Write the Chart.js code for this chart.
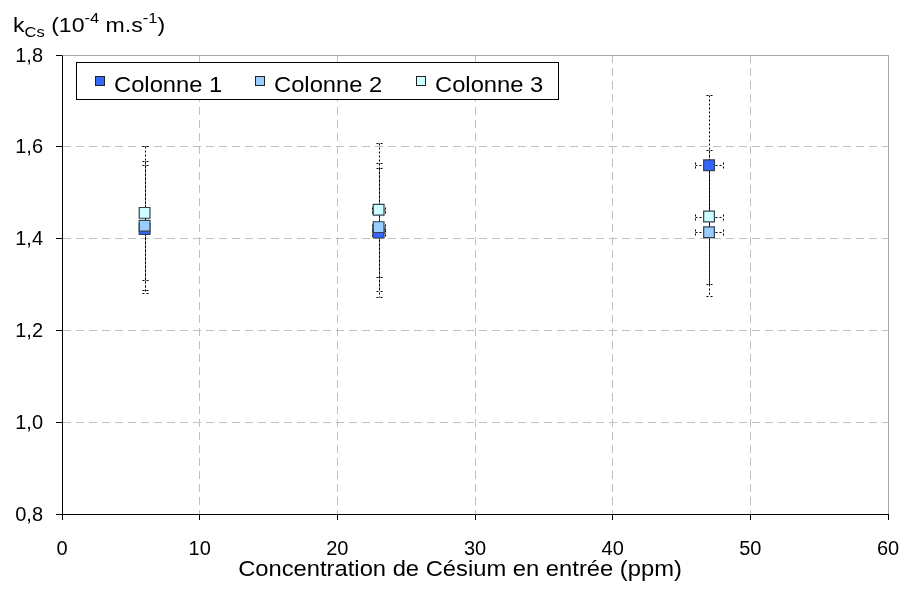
<!DOCTYPE html>
<html lang="fr">
<head>
<meta charset="UTF-8">
<title>kCs</title>
<style>
  html, body { margin: 0; padding: 0; background: #fff; }
  #wrap { width: 904px; height: 594px; position: relative; }
</style>
</head>
<body>
<div id="wrap"><canvas id="chart" width="904" height="594"></canvas></div>
<script src="https://cdn.jsdelivr.net/npm/chart.js"></script>
<script>
// data
const concentrations = [6, 23, 47];
const colonne1 = [1.421, 1.413, 1.560];
const colonne2 = [1.428, 1.425, 1.414];
const colonne3 = [1.456, 1.463, 1.448];
const errY1 = [0.14, 0.14, 0.153];
const errY2 = [0.14, 0.14, 0.14];
const errY3 = [0.146, 0.146, 0.146];
const errX = [0, 0.45, 1.0];
const seriesNames = ['Colonne 1', 'Colonne 2', 'Colonne 3'];
const seriesColors = ['#3366FF', '#99CCFF', '#CCFFFF'];
const xTicks = [0, 10, 20, 30, 40, 50, 60];
const yTicks = [0.8, 1.0, 1.2, 1.4, 1.6, 1.8];

const FONT = 'Arial, "Liberation Sans", sans-serif';

const toPoints = (ys, errs) => concentrations.map((x, i) => ({ x: x, y: ys[i], ey: errs[i], ex: errX[i] }));

const makeSet = (i, ys, errs, order) => ({
  label: seriesNames[i],
  data: toPoints(ys, errs),
  pointStyle: 'rect',
  pointRadius: 7.6,
  pointHoverRadius: 7.6,
  backgroundColor: seriesColors[i],
  borderColor: '#34434f',
  borderWidth: 1.2,
  showLine: false,
  order: order
});

// text is a bit wider than plain Arial in the original
const wideText = (ctx, text, x, y, sx) => {
  ctx.save();
  ctx.translate(x, y);
  ctx.scale(sx, 1);
  ctx.fillText(text, 0, 0);
  ctx.restore();
  return ctx.measureText(text).width * sx;
};

// dotted error bars, drawn under the markers
const errorBars = {
  id: 'errorBars',
  beforeDatasetsDraw(chart) {
    const ctx = chart.ctx;
    const xs = chart.scales.x, ys = chart.scales.y;
    const area = chart.chartArea;
    ctx.save();
    // solid grey frame on top and right of the plot area
    ctx.strokeStyle = '#a8a8a8';
    ctx.lineWidth = 1;
    ctx.beginPath();
    ctx.moveTo(Math.round(area.left) + 0.5, Math.round(area.top) + 0.5);
    ctx.lineTo(Math.round(area.right) + 0.5, Math.round(area.top) + 0.5);
    ctx.lineTo(Math.round(area.right) + 0.5, Math.round(area.bottom));
    ctx.stroke();

    ctx.strokeStyle = '#000';
    ctx.setLineDash([2, 2]);
    chart.data.datasets.forEach(ds => {
      ds.data.forEach(p => {
        const px = Math.round(xs.getPixelForValue(p.x)) + 0.5;
        const py = Math.round(ys.getPixelForValue(p.y)) + 0.5;
        const top = Math.round(ys.getPixelForValue(p.y + p.ey)) + 0.5;
        const bot = Math.round(ys.getPixelForValue(p.y - p.ey)) + 0.5;
        ctx.beginPath();
        ctx.moveTo(px, top); ctx.lineTo(px, bot);
        ctx.moveTo(px - 3, top); ctx.lineTo(px + 4, top);
        ctx.moveTo(px - 3, bot); ctx.lineTo(px + 4, bot);
        if (p.ex > 0) {
          const l = Math.round(xs.getPixelForValue(p.x - p.ex)) + 0.5;
          const r = Math.round(xs.getPixelForValue(p.x + p.ex)) + 0.5;
          ctx.moveTo(l, py); ctx.lineTo(r, py);
          ctx.moveTo(l, py - 3); ctx.lineTo(l, py + 4);
          ctx.moveTo(r, py - 3); ctx.lineTo(r, py + 4);
        }
        ctx.stroke();
      });
    });
    ctx.restore();
  }
};

// axis titles and the boxed legend
const decorations = {
  id: 'decorations',
  afterDraw(chart) {
    const ctx = chart.ctx;
    ctx.save();
    ctx.fillStyle = '#000';
    ctx.textBaseline = 'alphabetic';
    ctx.textAlign = 'left';

    // y title: kCs (10-4 m.s-1)
    let x = 13;
    const base = 32;
    const parts = [
      ['k', 21, 0], ['Cs', 15, 5], [' (10', 21, 0], ['-4', 15, -9],
      [' m.s', 21, 0], ['-1', 15, -9], [')', 21, 0]
    ];
    parts.forEach(([t, size, dy]) => {
      ctx.font = size + 'px ' + FONT;
      x += wideText(ctx, t, x, base + dy, 1.1);
    });

    // x title
    ctx.font = '22px ' + FONT;
    const title = 'Concentration de Césium en entrée (ppm)';
    const tw = ctx.measureText(title).width * 1.08;
    wideText(ctx, title, 460 - tw / 2, 576, 1.08);

    // legend
    ctx.fillStyle = '#fff';
    ctx.fillRect(76, 62, 483, 37);
    ctx.strokeStyle = '#000';
    ctx.lineWidth = 1;
    ctx.strokeRect(76.5, 62.5, 482, 37);
    const itemX = [95, 255, 416];
    ctx.font = '22px ' + FONT;
    chart.data.datasets.forEach((ds, i) => {
      ctx.fillStyle = ds.backgroundColor;
      ctx.fillRect(itemX[i], 76, 10, 10);
      ctx.strokeStyle = '#222';
      ctx.strokeRect(itemX[i] + 0.5, 76.5, 9, 9);
      ctx.fillStyle = '#000';
      wideText(ctx, ds.label, itemX[i] + 19, 92, 1.08);
    });
    ctx.restore();
  }
};

new Chart(document.getElementById('chart'), {
  type: 'scatter',
  data: {
    datasets: [
      makeSet(0, colonne1, errY1, 3),
      makeSet(1, colonne2, errY2, 2),
      makeSet(2, colonne3, errY3, 1)
    ]
  },
  options: {
    responsive: false,
    animation: false,
    events: [],
    layout: { padding: { top: 55, right: 16, left: 0, bottom: 0 } },
    plugins: {
      legend: { display: false },
      tooltip: { enabled: false },
      title: { display: false }
    },
    scales: {
      x: {
        type: 'linear',
        min: 0,
        max: 60,
        afterBuildTicks: axis => { axis.ticks = xTicks.map(v => ({ value: v })); },
        afterFit: axis => {
          axis.height = 80;
          axis.paddingLeft = 0;
          axis.paddingRight = 0;
        },
        ticks: {
          color: '#000',
          font: { family: FONT, size: 20 },
          padding: 17,
          maxRotation: 0
        },
        grid: {
          color: '#c0c0c0',
          tickColor: '#000',
          tickLength: 6
        },
        border: { display: true, color: '#000', width: 1, dash: [8, 5] }
      },
      y: {
        type: 'linear',
        min: 0.8,
        max: 1.8,
        afterBuildTicks: axis => { axis.ticks = yTicks.map(v => ({ value: v })); },
        afterFit: axis => {
          axis.width = 62;
          axis.paddingTop = 0;
          axis.paddingBottom = 0;
        },
        ticks: {
          color: '#000',
          font: { family: FONT, size: 20 },
          padding: 13,
          labelOffset: 1,
          callback: v => v.toFixed(1).replace('.', ',')
        },
        grid: {
          color: '#c0c0c0',
          tickColor: '#000',
          tickLength: 6
        },
        border: { display: true, color: '#000', width: 1, dash: [8, 5] }
      }
    }
  },
  plugins: [errorBars, decorations]
});
</script>
</body>
</html>
